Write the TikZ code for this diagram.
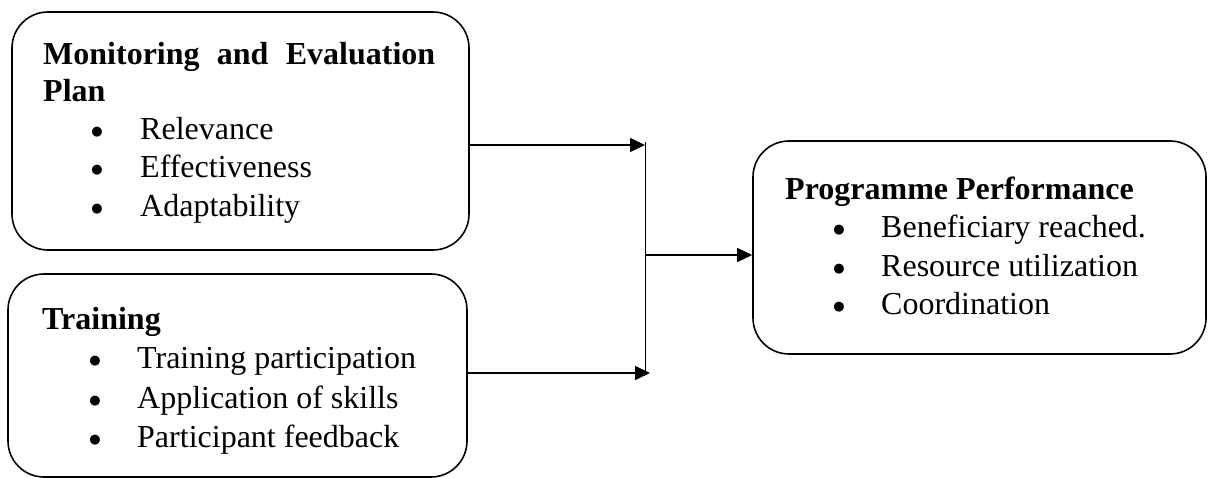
\documentclass[tikz,border=0pt]{standalone}
\usepackage{fontspec}
\setmainfont{Liberation Serif}
\newfontfamily\dejavu{DejaVu Sans}
\usetikzlibrary{arrows.meta}
\begin{document}
\begin{tikzpicture}[x=1pt,y=-1pt,
  box/.style={draw,line width=1.6pt,rounded corners=36pt,inner sep=0pt},
  txt/.style={anchor=base west,inner sep=0pt,font=\fontsize{32}{38}\selectfont},
  hd/.style={anchor=base west,inner sep=0pt,font=\fontsize{32}{38}\selectfont\bfseries},
  bul/.style={anchor=base,inner sep=0pt,font=\fontsize{13}{13}\dejavu,yshift=4pt},
  arr/.style={line width=1.6pt,-{Triangle[length=15pt,width=14pt]}}]
\useasboundingbox (0,0) rectangle (1208,478);
% boxes
\node[box,minimum width=457pt,minimum height=238pt] (mep) at (240.5,131) {};
\node[box,minimum width=459pt,minimum height=203pt] (trn) at (237.5,375.5) {};
\node[box,minimum width=453pt,minimum height=213pt] (pp) at (979.5,247.5) {};
% box 1 text
\node[hd] (h1) at (43,65) {\makebox[392pt][s]{Monitoring and Evaluation}};
\node[hd] (h1b) at (43,102) {Plan};
\node[bul] (b11) at (97,140) {●};
\node[bul] (b12) at (97,178) {●};
\node[bul] (b13) at (97,217) {●};
\node[txt] (t11) at (140,140) {Relevance};
\node[txt] (t12) at (140,178) {Effectiveness};
\node[txt] (t13) at (140,217) {Adaptability};
% box 2 text
\node[hd] (h2) at (42,330) {Training};
\node[bul] (b21) at (95,369) {●};
\node[bul] (b22) at (95,408) {●};
\node[bul] (b23) at (95,447) {●};
\node[txt] (t21) at (137,369) {Training participation};
\node[txt] (t22) at (137,408) {Application of skills};
\node[txt] (t23) at (137,447) {Participant feedback};
% box 3 text
\node[hd] (h3) at (785,200) {Programme Performance};
\node[bul] (b31) at (839,238) {●};
\node[bul] (b32) at (839,277) {●};
\node[bul] (b33) at (839,315) {●};
\node[txt] (t31) at (881,238) {Beneficiary reached.};
\node[txt] (t32) at (881,277) {Resource utilization};
\node[txt] (t33) at (881,315) {Coordination};
% connectors
\coordinate (e1) at (645,145);
\coordinate (e2) at (650,373);
\coordinate (vtop) at (645,142);
\coordinate (vbot) at (645,375);
\coordinate (j) at (645,255);
\draw[arr] (mep.east |- e1) -- (e1);
\draw[arr] (trn.east |- e2) -- (e2);
\draw[line width=1pt] (vtop) -- (vbot);
\draw[arr] (j) -- (pp.west |- j);
\end{tikzpicture}
\end{document}
